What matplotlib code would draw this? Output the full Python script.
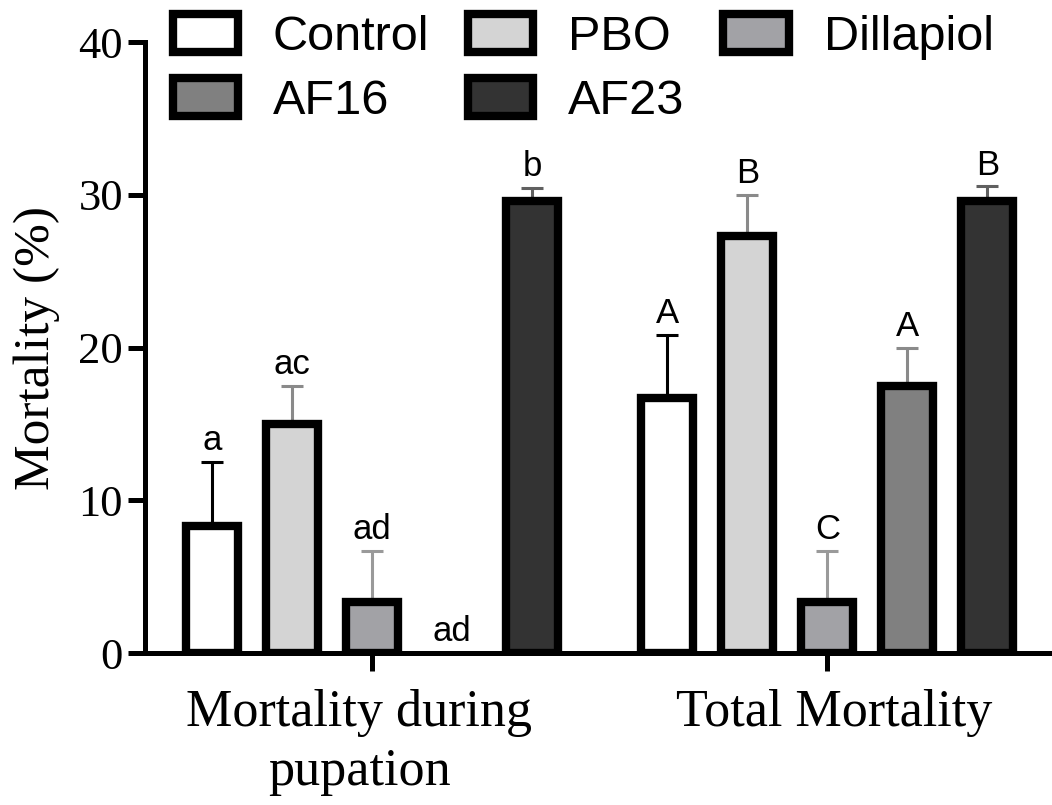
#!/usr/bin/env python3

import matplotlib.pyplot as plt
from matplotlib.patches import Patch
import numpy as np

# mortality data, mean and upper SE for each treatment
groups = ["Mortality during\npupation", "Total Mortality"]
treatments = ["Control", "PBO", "Dillapiol", "AF16", "AF23"]
pupation = [8.33, 15.0, 3.33, 0.0, 29.6]
pupation_err = [4.17, 2.5, 3.33, 0.0, 0.85]
total = [16.67, 27.3, 3.33, 17.5, 29.6]
total_err = [4.17, 2.7, 3.33, 2.5, 0.95]
pupation_letters = ["a", "ac", "ad", "ad", "b"]
total_letters = ["A", "B", "C", "A", "B"]

fills = ["#ffffff", "#d4d4d4", "#a2a2a6", "#808080", "#333333"]
err_colors = ["#000000", "#8a8a8a", "#9a9a9a", "#8a8a8a", "#606060"]

serif = "Liberation Serif"
sans = "Liberation Sans"

fig = plt.figure(figsize=(10.52, 8.05), dpi=100)
ax = fig.add_axes([0.138, 0.1888, 0.862, 0.759])

centers = np.array([0.0, 5.69])
offsets = np.arange(-2, 3)
width = 0.65

handles = []
for i, name in enumerate(treatments):
    xs = centers + offsets[i]
    means = [pupation[i], total[i]]
    errs = [pupation_err[i], total_err[i]]
    letters = [pupation_letters[i], total_letters[i]]
    b = ax.bar(xs, means, width, color=fills[i], edgecolor="black",
               linewidth=6, zorder=3)
    for rect, m in zip(b.patches, means):
        if m == 0:
            rect.set_visible(False)   # empty bar, only the letter is shown
    handles.append(Patch(facecolor=fills[i], edgecolor="black", linewidth=6,
                         label=name))
    for x, m, e, lt in zip(xs, means, errs, letters):
        if e > 0:
            ax.errorbar(x, m, yerr=[[0], [e]], color=err_colors[i],
                        elinewidth=2.2, capsize=8, capthick=2.2, zorder=2)
        ax.annotate(lt, (x, m + e), xytext=(0, 3.5), textcoords="offset points",
                    ha="center", va="bottom", fontsize=25, family=sans)

ax.set_xlim(-2.84, 8.5)
ax.set_ylim(0, 40)
ax.set_yticks([0, 10, 20, 30, 40])
ax.set_xticks(centers)
ax.set_xticklabels([])
for lab in ax.get_yticklabels():
    lab.set_fontsize(32)
    lab.set_family(serif)

# group labels under the ticks, slightly off-centre
for c, g, dx in zip(centers, groups, [-13, 7]):
    ax.annotate(g, (c, 0), xycoords=("data", "axes fraction"),
                xytext=(dx, -36), textcoords="offset pixels",
                ha="center", va="top", fontsize=37.5, family=serif,
                linespacing=1.3)

ax.spines["top"].set_visible(False)
ax.spines["right"].set_visible(False)
ax.spines["left"].set_linewidth(3.6)
ax.spines["bottom"].set_linewidth(3.6)
ax.tick_params(axis="y", length=12, width=3.6, pad=4)
ax.tick_params(axis="x", length=13, width=3.6)

ax.set_ylabel("Mortality (%)", fontsize=37, family=serif)
ax.yaxis.set_label_coords(-0.094, 0.5)

# legend filled row by row: Control PBO Dillapiol / AF16 AF23
order = [0, 3, 1, 4, 2]
fig.legend([handles[k] for k in order], [treatments[k] for k in order],
           ncol=3, loc="upper left", bbox_to_anchor=(0.164, 0.982),
           frameon=False, borderaxespad=0, borderpad=0,
           prop={"family": sans, "size": 35},
           handlelength=1.34, handleheight=0.8, handletextpad=0.72,
           columnspacing=0.8, labelspacing=0.38)

plt.savefig("out.png", dpi=100)
